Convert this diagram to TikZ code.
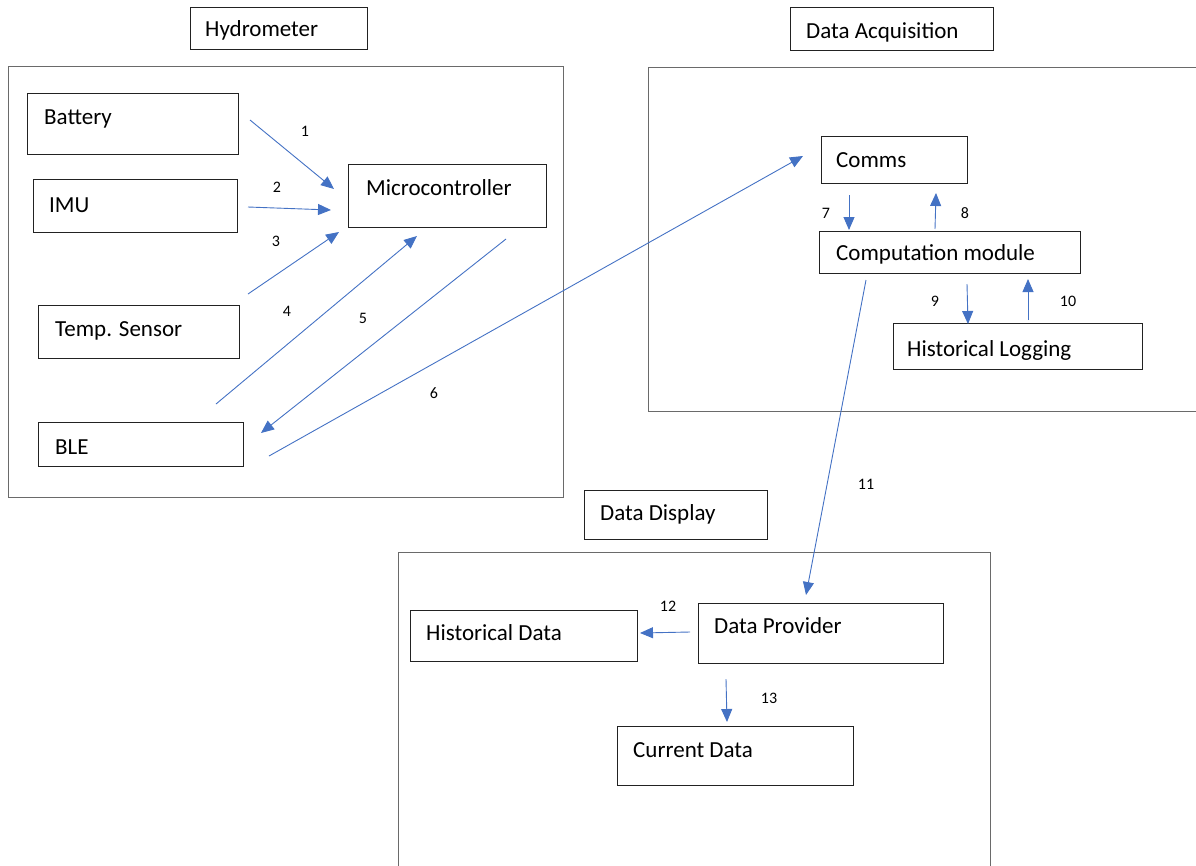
\documentclass[tikz,border=0pt]{standalone}
\usepackage{fontspec}
\setmainfont{Carlito}
\usetikzlibrary{arrows.meta}
\definecolor{arrowblue}{HTML}{4472C4}
\definecolor{framegray}{HTML}{6A6A6A}
\definecolor{boxline}{HTML}{222222}
\tikzset{
  box/.style={draw=boxline, line width=1.2pt, anchor=north west, inner sep=0pt, fill=white},
  frame/.style={draw=framegray, line width=1.3pt, anchor=north west, inner sep=0pt},
  txt/.style={anchor=base west, inner sep=0pt, font=\fontsize{23}{27}\selectfont},
  num/.style={inner sep=0pt, font=\fontsize{16}{19}\selectfont},
  flow/.style={draw=arrowblue, line width=0.9pt, -{Triangle[length=13pt,width=11pt]}},
}
\begin{document}
\begin{tikzpicture}[x=1pt,y=-1pt]
\useasboundingbox (0,0) rectangle (1196,865);
% containers
\node[frame, minimum width=555pt, minimum height=431pt] (hydroF) at (8,66) {};
\node[frame, minimum width=560pt, minimum height=344pt] (daqF) at (648,67) {};
\node[frame, minimum width=592pt, minimum height=330pt] (dispF) at (398,552) {};
% title boxes
\node[box, minimum width=177pt, minimum height=42pt] (hydroT) at (190,7) {};
\node[txt] (hydroTt) at (205,36) {Hydrometer};
\node[box, minimum width=203pt, minimum height=43pt] (daqT) at (790,7) {};
\node[txt] (daqTt) at (806,38) {Data Acquisition};
\node[box, minimum width=183pt, minimum height=49pt] (dispT) at (584,490) {};
\node[txt] (dispTt) at (600,520) {Data Display};
% hydrometer boxes
\node[box, minimum width=211pt, minimum height=61pt] (bat) at (27,93) {};
\node[txt] (batt) at (44,124) {Battery};
\node[box, minimum width=204pt, minimum height=53pt] (imu) at (33,179) {};
\node[txt] (imut) at (49,212) {IMU};
\node[box, minimum width=198pt, minimum height=63pt] (mcu) at (348,164) {};
\node[txt] (mcut) at (366,195) {Microcontroller};
\node[box, minimum width=201pt, minimum height=53pt] (temp) at (38,305) {};
\node[txt] (tempt) at (55,336) {Temp. Sensor};
\node[box, minimum width=205pt, minimum height=44pt] (ble) at (38,422) {};
\node[txt] (blet) at (55,454) {BLE};
% data acquisition boxes
\node[box, minimum width=146pt, minimum height=47pt] (comms) at (821,136) {};
\node[txt] (commst) at (836,167) {Comms};
\node[box, minimum width=261pt, minimum height=42pt] (comp) at (819,231) {};
\node[txt] (compt) at (836,260) {Computation module};
\node[box, minimum width=249pt, minimum height=46pt] (hlog) at (893,323) {};
\node[txt] (hlogt) at (907,356) {Historical Logging};
% data display boxes
\node[box, minimum width=227pt, minimum height=51pt] (hdata) at (410,610) {};
\node[txt] (hdatat) at (426,640) {Historical Data};
\node[box, minimum width=245pt, minimum height=60pt] (prov) at (698,603) {};
\node[txt] (provt) at (714,633) {Data Provider};
\node[box, minimum width=236pt, minimum height=59pt] (cur) at (617,726) {};
\node[txt] (curt) at (633,757) {Current Data};
% arrow end points
\coordinate (a1s) at (250,120); \coordinate (a1e) at (334,189);
\coordinate (a2s) at (248,207); \coordinate (a2e) at (331,210);
\coordinate (a3s) at (248,294); \coordinate (a3e) at (339,232);
\coordinate (a4s) at (216,404); \coordinate (a4e) at (417,236);
\coordinate (a5s) at (506,239); \coordinate (a5e) at (261,433);
\coordinate (a6s) at (269,456); \coordinate (a6e) at (803,156);
\coordinate (a7s) at (849,195); \coordinate (a7e) at (849,230);
\coordinate (a8s) at (935,229); \coordinate (a8e) at (936,193);
\coordinate (a9s) at (967,284); \coordinate (a9e) at (968,324);
\coordinate (a10s) at (1028,320); \coordinate (a10e) at (1028,279);
\coordinate (a11s) at (866,280); \coordinate (a11e) at (806,595);
\coordinate (a12s) at (690,632); \coordinate (a12e) at (640,633);
\coordinate (a13s) at (726,679); \coordinate (a13e) at (727,722);
\draw[flow] (a1s) -- (a1e);
\draw[flow] (a2s) -- (a2e);
\draw[flow] (a3s) -- (a3e);
\draw[flow] (a4s) -- (a4e);
\draw[flow] (a5s) -- (a5e);
\draw[flow] (a6s) -- (a6e);
\draw[flow] (a7s) -- (a7e);
\draw[flow] (a8s) -- (a8e);
\draw[flow] (a9s) -- (a9e);
\draw[flow] (a10s) -- (a10e);
\draw[flow] (a11s) -- (a11e);
\draw[flow] (a12s) -- (a12e);
\draw[flow] (a13s) -- (a13e);
% numbers
\node[num] (n1) at (305,131) {1};
\node[num] (n2) at (277,187) {2};
\node[num] (n3) at (276,241) {3};
\node[num] (n4) at (287,311) {4};
\node[num] (n5) at (363,318) {5};
\node[num] (n6) at (434,393) {6};
\node[num] (n7) at (826,213) {7};
\node[num] (n8) at (965,213) {8};
\node[num] (n9) at (935,301) {9};
\node[num] (n10) at (1068,301) {10};
\node[num] (n11) at (866,484) {11};
\node[num] (n12) at (668,606) {12};
\node[num] (n13) at (769,698) {13};
\end{tikzpicture}
\end{document}
